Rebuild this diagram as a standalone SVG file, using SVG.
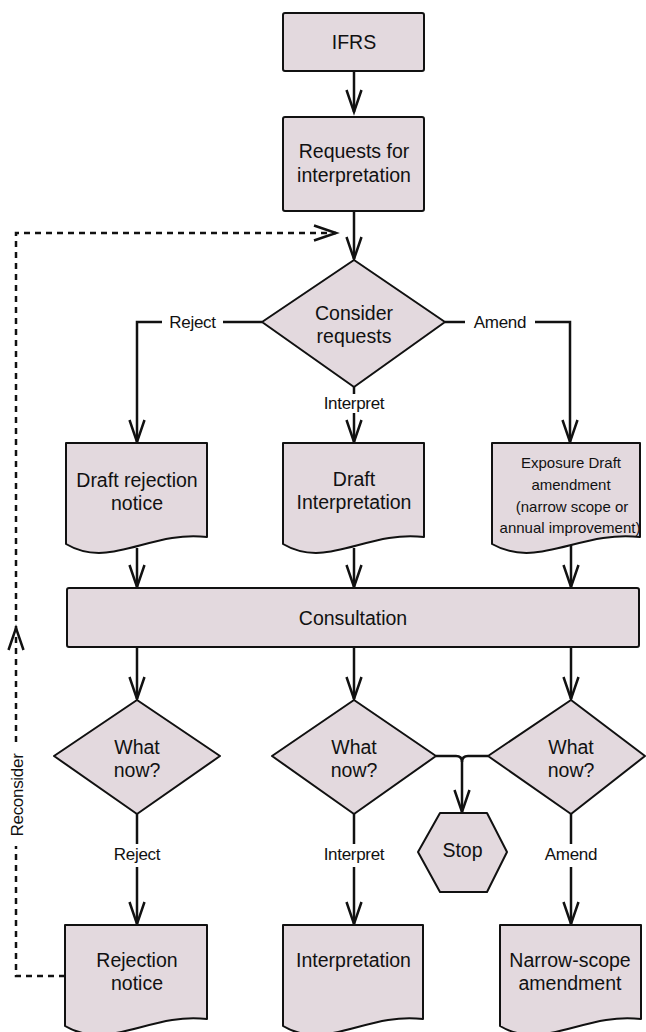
<svg xmlns="http://www.w3.org/2000/svg" width="646" height="1032" viewBox="0 0 646 1032">
  <style>
    .box { fill: #e3d9de; stroke: #111; stroke-width: 2; stroke-linejoin: round; }
    .lbl { font-family: "Liberation Sans", Arial, Helvetica, sans-serif; font-size: 19.5px; fill: #111; text-anchor: middle; }
    .small { font-family: "Liberation Sans", Arial, Helvetica, sans-serif; font-size: 15px; fill: #111; text-anchor: middle; }
    .edge { font-family: "Liberation Sans", Arial, Helvetica, sans-serif; font-size: 17px; letter-spacing: -0.3px; fill: #111; text-anchor: middle; }
    .line { fill: none; stroke: #111; stroke-width: 2.5; }
    .dash { fill: none; stroke: #111; stroke-width: 2.5; stroke-dasharray: 6 5; }
    .head { fill: none; stroke: #111; stroke-width: 2.5; stroke-linejoin: miter; }
  </style>
  <defs>
    <marker id="arrow" markerUnits="userSpaceOnUse" markerWidth="30" markerHeight="30" viewBox="-26 -15 30 30" refX="0" refY="0" orient="auto" overflow="visible">
      <path d="M-22,-7.5 L0,0 L-22,7.5" fill="none" stroke="#111" stroke-width="2.5"/>
    </marker>
  </defs>

  <!-- connectors -->
  <g id="connectors">
    <path class="line" d="M354,71 V112" marker-end="url(#arrow)"/>
    <path class="line" d="M354,211 V259" marker-end="url(#arrow)"/>
    <!-- Reject branch -->
    <path class="line" d="M262,322 H223"/>
    <path class="line" d="M162,322 H137 V442" marker-end="url(#arrow)"/>
    <text class="edge" x="192.5" y="328">Reject</text>
    <!-- Amend branch -->
    <path class="line" d="M445,322 H465"/>
    <path class="line" d="M535,322 H570 V442" marker-end="url(#arrow)"/>
    <text class="edge" x="500" y="328">Amend</text>
    <!-- Interpret branch -->
    <path class="line" d="M354,387 V394"/>
    <path class="line" d="M354,413 V442" marker-end="url(#arrow)"/>
    <text class="edge" x="354" y="409">Interpret</text>
    <!-- drafts into consultation -->
    <path class="line" d="M137,548 V587" marker-end="url(#arrow)"/>
    <path class="line" d="M354,548 V587" marker-end="url(#arrow)"/>
    <path class="line" d="M571,544 V587" marker-end="url(#arrow)"/>
    <!-- consultation to decisions -->
    <path class="line" d="M137,647 V699" marker-end="url(#arrow)"/>
    <path class="line" d="M354,647 V699" marker-end="url(#arrow)"/>
    <path class="line" d="M571,647 V699" marker-end="url(#arrow)"/>
    <!-- decisions to outcomes -->
    <path class="line" d="M137,814 V844"/>
    <path class="line" d="M137,867 V924" marker-end="url(#arrow)"/>
    <text class="edge" x="137" y="860">Reject</text>
    <path class="line" d="M354,814 V844"/>
    <path class="line" d="M354,867 V924" marker-end="url(#arrow)"/>
    <text class="edge" x="354" y="860">Interpret</text>
    <path class="line" d="M571,814 V844"/>
    <path class="line" d="M571,867 V924" marker-end="url(#arrow)"/>
    <text class="edge" x="571" y="860">Amend</text>
    <!-- stop junction -->
    <path class="line" d="M436,756 H456 Q462,756 462,762 V812" marker-end="url(#arrow)"/>
    <path class="line" d="M488,756 H468 Q462,756 462,762"/>
    <!-- reconsider loop -->
    <path class="dash" d="M65,976 H16 V846"/>
    <path class="dash" d="M16,742 V233 H336" marker-end="url(#arrow)"/>
    <path class="head" d="M8.5,650 L16,628 L23.5,650"/>
    <text class="edge" transform="translate(23,795) rotate(-90)">Reconsider</text>
  </g>

  <g id="ifrs">
    <rect class="box" x="283" y="13" width="141" height="58" rx="2"/>
    <text class="lbl" x="354" y="49">IFRS</text>
  </g>

  <g id="requests">
    <rect class="box" x="283" y="117" width="141" height="94" rx="2"/>
    <text class="lbl" x="354" y="158">Requests for</text>
    <text class="lbl" x="354" y="182">interpretation</text>
  </g>

  <g id="consider">
    <polygon class="box" points="354,260 445,322 354,387 262,322"/>
    <text class="lbl" x="354" y="320">Consider</text>
    <text class="lbl" x="354" y="343">requests</text>
  </g>

  <g id="draft-rejection">
    <path class="box" d="M66,443 H207 V537 C150,530 110,570 66,544 Z"/>
    <text class="lbl" x="137" y="487">Draft rejection</text>
    <text class="lbl" x="137" y="510">notice</text>
  </g>

  <g id="draft-interpretation">
    <path class="box" d="M283,443 H424 V537 C367,530 327,570 283,544 Z"/>
    <text class="lbl" x="354" y="486">Draft</text>
    <text class="lbl" x="354" y="509">Interpretation</text>
  </g>

  <g id="exposure-draft">
    <path class="box" d="M492,443 H640 V537 C580,530 538,570 492,544 Z"/>
    <text class="small" x="571" y="468">Exposure Draft</text>
    <text class="small" x="571" y="490">amendment</text>
    <text class="small" x="572" y="512">(narrow scope or</text>
    <text class="small" x="570" y="533">annual improvement)</text>
  </g>

  <g id="consultation">
    <rect class="box" x="67" y="588" width="572" height="59" rx="2"/>
    <text class="lbl" x="353" y="625">Consultation</text>
  </g>

  <g id="what-now-reject">
    <polygon class="box" points="137,700 220,756 137,814 54,756"/>
    <text class="lbl" x="137" y="754">What</text>
    <text class="lbl" x="137" y="777">now?</text>
  </g>

  <g id="what-now-interpret">
    <polygon class="box" points="354,700 436,756 354,814 272,756"/>
    <text class="lbl" x="354" y="754">What</text>
    <text class="lbl" x="354" y="777">now?</text>
  </g>

  <g id="what-now-amend">
    <polygon class="box" points="571,700 645,756 571,814 488,756"/>
    <text class="lbl" x="571" y="754">What</text>
    <text class="lbl" x="571" y="777">now?</text>
  </g>

  <g id="stop">
    <polygon class="box" points="440,813 487,813 507,852 487,892 440,892 418,852"/>
    <text class="lbl" x="462.5" y="857">Stop</text>
  </g>

  <g id="rejection-notice">
    <path class="box" d="M65,925 H207 V1019 C150,1012 110,1052 65,1026 Z"/>
    <text class="lbl" x="137" y="967">Rejection</text>
    <text class="lbl" x="137" y="990">notice</text>
  </g>

  <g id="interpretation">
    <path class="box" d="M283,925 H423 V1019 C366,1012 327,1052 283,1026 Z"/>
    <text class="lbl" x="353.5" y="967">Interpretation</text>
  </g>

  <g id="narrow-scope">
    <path class="box" d="M500,925 H641 V1019 C584,1012 544,1052 500,1026 Z"/>
    <text class="lbl" x="570" y="967">Narrow-scope</text>
    <text class="lbl" x="570" y="990">amendment</text>
  </g>
</svg>
